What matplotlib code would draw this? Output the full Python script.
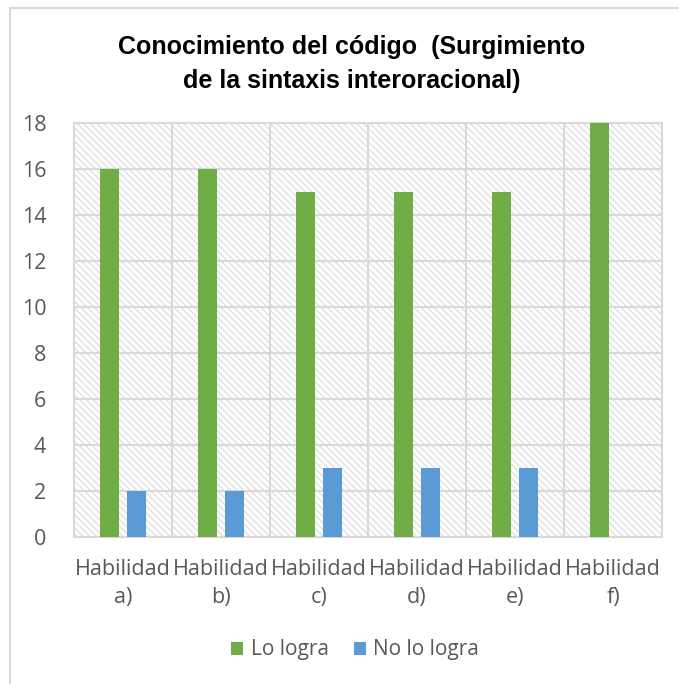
import numpy as np
import matplotlib.pyplot as plt
from matplotlib.patches import Rectangle

plt.rcParams['hatch.color'] = '#d6d6d6'
plt.rcParams['hatch.linewidth'] = 0.8

categorias = ['Habilidad\na)', 'Habilidad\nb)', 'Habilidad\nc)',
              'Habilidad\nd)', 'Habilidad\ne)', 'Habilidad\nf)']
lo_logra = [16, 16, 15, 15, 15, 18]
no_lo_logra = [2, 2, 3, 3, 3, 0]

verde = '#70ad47'
azul = '#5b9bd5'
gris = '#595959'
rejilla = '#d9d9d9'
fuente = 'Open Sans'

fig = plt.figure(figsize=(6.79, 6.84), dpi=100)
# marco del grafico
fig.patches.append(Rectangle((10 / 679, -0.1), 1.2, 1 - 8 / 684 + 0.1,
                             transform=fig.transFigure, fill=False,
                             edgecolor=rejilla, linewidth=1.5))

ax = fig.add_axes([74 / 679, 1 - 537 / 684, 588 / 679, 414 / 684])

# fondo rayado
ax.add_patch(Rectangle((0, 0), 1, 1, transform=ax.transAxes, facecolor='white',
                       edgecolor=rejilla, hatch='\\\\\\\\\\', linewidth=0, zorder=0))

x = np.arange(len(categorias))
ancho = 0.194
ax.bar(x - 0.138, lo_logra, ancho, color=verde, label='Lo logra', zorder=3)
ax.bar(x + 0.138, no_lo_logra, ancho, color=azul, label='No lo logra', zorder=3)

ax.set_xlim(-0.5, len(categorias) - 0.5)
ax.set_ylim(0, 18)
ax.set_yticks(range(0, 19, 2))
ax.set_xticks(x)
ax.set_xticklabels(categorias, fontsize=15.5, color=gris, family=fuente,
                   linespacing=1.45)
ax.tick_params(axis='y', labelsize=15.5, labelcolor=gris, length=0, pad=20)
ax.tick_params(axis='x', length=0, pad=16)
for t in ax.get_yticklabels():
    t.set_family(fuente)

ax.grid(axis='y', color=rejilla, linewidth=1.5, zorder=1)
for b in np.arange(0.5, len(categorias) - 0.5):
    ax.axvline(b, color=rejilla, linewidth=1.5, zorder=1)
for s in ['top', 'right', 'left', 'bottom']:
    ax.spines[s].set_color(rejilla)
    ax.spines[s].set_linewidth(1.5)
ax.set_axisbelow(True)

fig.text(352 / 679, 1 - 64 / 684, 'Conocimiento del código  (Surgimiento\nde la sintaxis interoracional)',
         ha='center', va='center', fontsize=18, fontweight='bold',
         family='Liberation Sans', linespacing=1.5)

leg = fig.legend(loc='center', bbox_to_anchor=(355 / 679, 1 - 650 / 684), ncol=2,
                 frameon=False, prop={'family': fuente, 'size': 15},
                 handlelength=0.6, handleheight=0.6, handletextpad=0.35,
                 columnspacing=1.2)
for t in leg.get_texts():
    t.set_color(gris)

fig.savefig('out.png', dpi=100)
